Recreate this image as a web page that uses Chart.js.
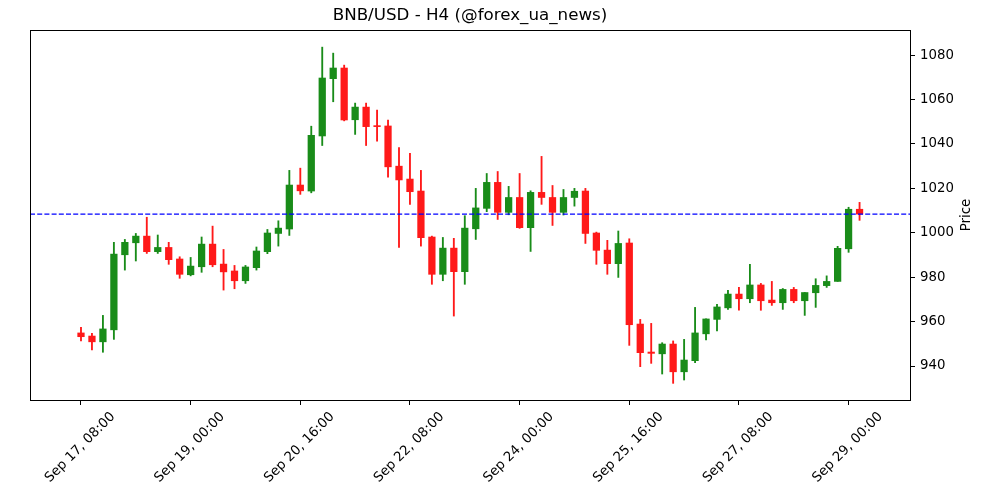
<!DOCTYPE html>
<html>
<head>
  <title>BNB/USD - H4</title>
  <script src="https://cdn.jsdelivr.net/npm/chart.js"></script>
  <style>
    body { margin: 0; background: #fff; }
    canvas { display: block; }
  </style>
</head>
<body>
  <canvas id="chart" width="1000" height="500"></canvas>

  <script>
    // H4 candles, Sep 17 08:00 .. Sep 29 04:00 (index 0..71)
    const opens = [
      954.9, 953.5, 950.9, 956.3, 990.1, 995.5, 998.5, 991.5, 993.4, 988.2,
      981.1, 984.7, 994.9, 985.9, 982.8, 978.4, 984.3, 991.5, 999.7, 1001.7,
      1021.5, 1018.8, 1043.6, 1069.4, 1074.2, 1050.9, 1056.6, 1048.1, 1048.1, 1030.0,
      1024.2, 1018.8, 998.1, 981.3, 993.1, 982.5, 1001.8, 1011.0, 1022.7, 1009.2,
      1015.9, 1002.3, 1018.2, 1015.9, 1009.2, 1015.9, 1018.8, 999.9, 992.2, 986.1,
      995.4, 958.9, 946.3, 945.5, 949.9, 937.4, 942.4, 954.5, 961.0, 966.2,
      972.4, 970.3, 976.5, 969.7, 968.5, 974.5, 969.4, 973.0, 976.2, 978.1,
      992.8, 1010.6
    ];
    const highs = [
      957.4, 954.7, 962.8, 995.7, 997.0, 999.7, 1007.0, 999.0, 995.7, 989.2,
      988.9, 998.1, 1003.0, 992.5, 985.3, 985.3, 993.6, 1001.5, 1005.4, 1028.1,
      1029.1, 1048.0, 1083.6, 1080.9, 1075.5, 1058.4, 1058.4, 1055.3, 1050.8, 1038.4,
      1035.8, 1028.1, 998.5, 997.9, 997.5, 1007.7, 1020.0, 1026.7, 1027.6, 1020.9,
      1026.7, 1018.9, 1034.4, 1021.3, 1019.5, 1020.0, 1020.0, 1000.3, 996.6, 1000.8,
      997.3, 961.0, 959.2, 950.5, 951.3, 952.0, 966.4, 961.2, 967.8, 974.1,
      975.4, 985.8, 977.2, 978.1, 974.9, 975.4, 973.1, 979.3, 980.6, 993.9,
      1011.5, 1013.7
    ];
    const lows = [
      951.3, 947.2, 946.2, 952.0, 983.2, 987.3, 990.7, 990.7, 985.8, 979.5,
      980.6, 982.2, 984.7, 974.2, 974.8, 977.2, 983.2, 990.6, 994.0, 998.8,
      1017.3, 1018.0, 1039.3, 1059.0, 1050.4, 1044.3, 1039.3, 1041.3, 1025.0, 993.4,
      1012.8, 994.0, 976.8, 978.4, 962.5, 976.8, 997.0, 1009.5, 1006.0, 1008.1,
      1002.0, 991.6, 1012.8, 1003.3, 1008.0, 1012.0, 995.2, 985.8, 981.3, 979.9,
      949.3, 939.7, 941.2, 936.4, 932.2, 933.7, 941.5, 951.7, 955.8, 965.5,
      965.1, 968.5, 965.1, 967.3, 965.5, 968.5, 962.8, 966.4, 975.4, 978.1,
      991.2, 1005.6
    ];
    const closes = [
      953.2, 950.9, 956.7, 990.4, 995.7, 998.5, 991.5, 993.4, 987.9, 981.3,
      985.0, 994.9, 985.6, 982.4, 978.4, 984.6, 991.8, 999.9, 1002.1, 1021.5,
      1018.9, 1043.9, 1069.7, 1074.2, 1050.8, 1056.6, 1047.8, 1047.8, 1029.7, 1023.8,
      1018.5, 997.8, 981.3, 993.1, 982.5, 1002.1, 1011.2, 1022.7, 1009.2, 1015.9,
      1002.3, 1018.2, 1015.9, 1009.2, 1015.9, 1018.7, 999.7, 992.1, 986.1, 995.2,
      958.6, 946.0, 945.7, 949.9, 937.4, 942.7, 954.9, 961.2, 966.6, 972.4,
      970.3, 976.5, 969.4, 968.5, 974.5, 969.4, 973.1, 976.3, 978.1, 993.0,
      1010.6, 1008.4
    ];
    const tickIndex = [0, 10, 20, 30, 40, 50, 60, 70];
    const tickLabels = [
      'Sep 17, 08:00', 'Sep 19, 00:00', 'Sep 20, 16:00', 'Sep 22, 08:00',
      'Sep 24, 00:00', 'Sep 25, 16:00', 'Sep 27, 08:00', 'Sep 29, 00:00'
    ];
    const priceTicks = [940, 960, 980, 1000, 1020, 1040, 1060, 1080];
    const lastPrice = closes[closes.length - 1];

    const UP = '#198c19';
    const DOWN = '#ff1919';
    const colors = closes.map((c, i) => c >= opens[i] ? UP : DOWN);
    const X_MIN = -4.65, X_MAX = 75.6;

    const font = { family: 'DejaVu Sans', size: 13.3 };

    // black frame around plot + right-side "Price" label
    const framePlugin = {
      id: 'frame',
      afterDraw(chart) {
        const { ctx, chartArea: a } = chart;
        ctx.save();
        ctx.strokeStyle = '#000';
        ctx.lineWidth = 1;
        ctx.strokeRect(Math.round(a.left) + 0.5, Math.round(a.top) + 0.5,
          Math.round(a.right - a.left), Math.round(a.bottom - a.top));
        ctx.translate(967, (a.top + a.bottom) / 2);
        ctx.rotate(-Math.PI / 2);
        ctx.fillStyle = '#000';
        ctx.font = '13.3px "DejaVu Sans"';
        ctx.textAlign = 'center';
        ctx.textBaseline = 'middle';
        ctx.fillText('Price', 0, 0);
        ctx.restore();
      }
    };

    new Chart(document.getElementById('chart'), {
      type: 'bar',
      data: {
        datasets: [
          {
            type: 'line',
            data: [{ x: X_MIN, y: lastPrice }, { x: X_MAX, y: lastPrice }],
            borderColor: '#0000ff',
            borderWidth: 1.3,
            borderDash: [5, 2.2],
            pointRadius: 0,
            order: 0
          },
          {
            data: opens.map((o, i) => ({ x: i, y: [o, closes[i]] })),
            backgroundColor: colors,
            borderWidth: 0,
            barThickness: 6.6,
            minBarLength: 1,
            grouped: false,
            order: 1
          },
          {
            data: lows.map((l, i) => ({ x: i, y: [l, highs[i]] })),
            backgroundColor: colors,
            borderWidth: 0,
            barThickness: 1.2,
            grouped: false,
            order: 2
          }
        ]
      },
      options: {
        responsive: false,
        animation: false,
        layout: { padding: { left: 30, right: 0, top: 0, bottom: 0 } },
        plugins: {
          legend: { display: false },
          tooltip: { enabled: false },
          title: {
            display: true,
            text: 'BNB/USD - H4 (@forex_ua_news)',
            fullSize: false,
            color: '#000',
            font: { family: 'DejaVu Sans', size: 16.7, weight: 'normal' },
            padding: { top: 6, bottom: 4 }
          }
        },
        scales: {
          x: {
            type: 'linear',
            min: X_MIN,
            max: X_MAX,
            offset: false,
            grid: { display: true, drawOnChartArea: false, offset: false, tickLength: 5, color: '#000' },
            border: { display: false },
            afterBuildTicks: s => { s.ticks = tickIndex.map(v => ({ value: v })); },
            afterFit: s => { s.height = 100; },
            ticks: {
              color: '#000',
              font: font,
              minRotation: 45,
              maxRotation: 45,
              padding: 4,
              labelOffset: 32,
              autoSkip: false,
              callback: v => tickLabels[tickIndex.indexOf(v)]
            }
          },
          y: {
            position: 'right',
            min: 924.7,
            max: 1091.3,
            grid: { display: true, drawOnChartArea: false, tickLength: 5, color: '#000' },
            border: { display: false },
            afterBuildTicks: s => { s.ticks = priceTicks.map(v => ({ value: v })); },
            afterFit: s => { s.width = 90; },
            ticks: { color: '#000', font: font, padding: 5, callback: v => String(v) }
          }
        }
      },
      plugins: [framePlugin]
    });
  </script>
</body>
</html>
